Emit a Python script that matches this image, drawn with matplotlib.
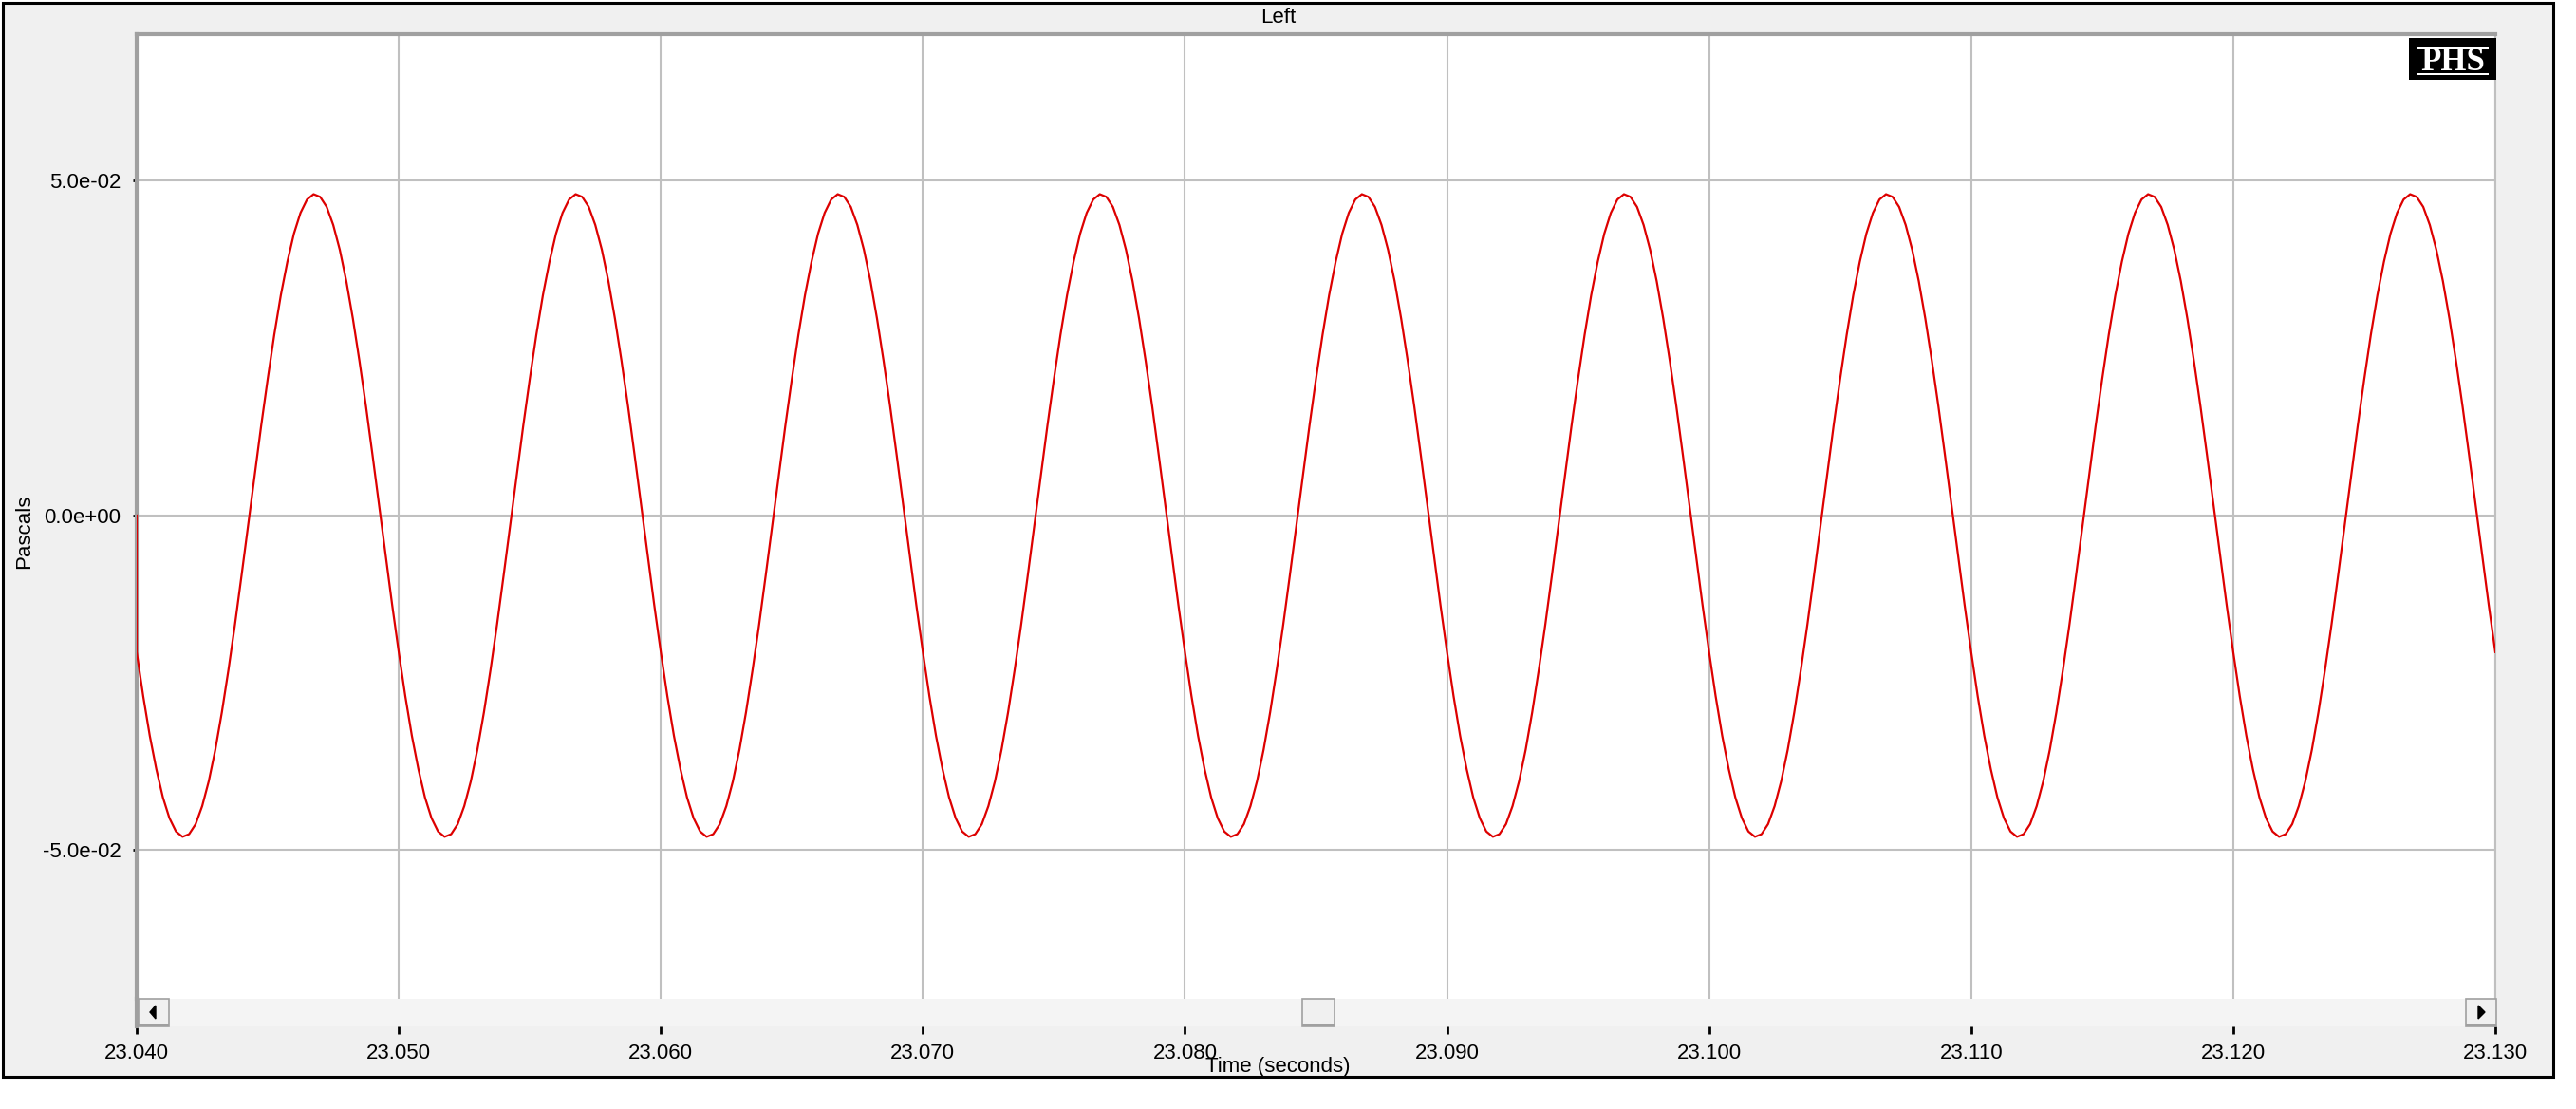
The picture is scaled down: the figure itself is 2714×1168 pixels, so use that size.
from matplotlib import pyplot as plt
from matplotlib.patches import Rectangle, Polygon
from matplotlib.ticker import FuncFormatter
import numpy as np

plt.rcParams['font.family'] = ['Liberation Sans', 'DejaVu Sans']

# channel name / axis text
title = 'Left'
xlabel = 'Time (seconds)'
ylabel = 'Pascals'

cycle_pressure = [
    -0.0204, -0.0270, -0.0329, -0.0379, -0.0421, -0.0452, -0.0472, -0.0480,
    -0.0476, -0.0461, -0.0434, -0.0397, -0.0350, -0.0294, -0.0231, -0.0163,
    -0.0090, -0.0015, 0.0060, 0.0134, 0.0204, 0.0270, 0.0329, 0.0379,
    0.0421, 0.0452, 0.0472, 0.0480, 0.0476, 0.0461, 0.0434, 0.0397,
    0.0350, 0.0294, 0.0231, 0.0163, 0.0090, 0.0015, -0.0060, -0.0134,
]
n_cycles = 9                 # steady tone, 9 cycles visible
start_time = 23.040
sample_step = 0.00025
first_sample = 0.0           # the trace starts from zero at the left edge

xticks = [23.040, 23.050, 23.060, 23.070, 23.080, 23.090, 23.100, 23.110, 23.120, 23.130]
yticks = [-0.05, 0.0, 0.05]

pressure = np.concatenate([np.tile(cycle_pressure, n_cycles), cycle_pressure[:1]])
times = start_time + sample_step * np.arange(len(pressure))
times = np.concatenate([[start_time], times])
pressure = np.concatenate([[first_sample], pressure])

W, H = 2714, 1168
PANEL = '#f0f0f0'


def fx(x):
    return x / W


def fy(y):
    return 1 - y / H


def box(x0, y0, x1, y1, **kw):
    # rectangle given in pixel coords (top-left origin)
    r = Rectangle((fx(x0), fy(y1)), fx(x1) - fx(x0), fy(y0) - fy(y1),
                  transform=fig.transFigure, **kw)
    fig.add_artist(r)
    return r


fig = plt.figure(figsize=(W / 100, H / 100), dpi=100, facecolor='white')

# window panel with black frame
box(3, 3, 2690, 1134, facecolor=PANEL, edgecolor='black', linewidth=2.2, zorder=0)

# main plot
ax = fig.add_axes([fx(144), fy(1052), fx(2629) - fx(144), fy(36) - fy(1052)])
ax.set_facecolor('white')
ax.plot(times, pressure, color='#dd0000', linewidth=1.6, zorder=3)
ax.set_xlim(xticks[0], xticks[-1])
ax.set_ylim(-0.0722, 0.0719)
ax.set_xticks(xticks)
ax.set_yticks(yticks)
ax.grid(True, color='#c0c0c0', linewidth=1.5)
ax.tick_params(axis='x', bottom=False, labelbottom=False)
ax.tick_params(axis='y', length=3, width=2, color='black', pad=9, labelsize=16)
ax.yaxis.set_major_formatter(FuncFormatter(lambda v, p: f'{v:.1e}'))
for s in ['left', 'top']:
    ax.spines[s].set_color('#a0a0a0')
    ax.spines[s].set_linewidth(3)
ax.spines['right'].set_color('#c0c0c0')
ax.spines['right'].set_linewidth(1.5)
ax.spines['bottom'].set_visible(False)

# scrollbar strip under the plot carries the time ticks
sb = fig.add_axes([fx(144), fy(1081), fx(2629) - fx(144), fy(1052) - fy(1081)], sharex=ax)
sb.set_facecolor('#f4f4f4')
sb.set_yticks([])
sb.tick_params(axis='x', length=6, width=2, color='black', pad=7, labelsize=16)
sb.xaxis.set_major_formatter(FuncFormatter(lambda v, p: f'{v:.3f}'))
for s in sb.spines.values():
    s.set_visible(False)
sb.spines['left'].set_visible(True)
sb.spines['left'].set_color('#a0a0a0')
sb.spines['left'].set_linewidth(3)

# scroll buttons and thumb
for (x0, x1) in [(146, 178), (1372, 1406), (2598, 2630)]:
    box(x0, 1052, x1, 1081, facecolor='#f0f0f0', edgecolor='#a0a0a0', linewidth=1.2, zorder=5)
    box(x0, 1079, x1, 1081, facecolor='#a0a0a0', edgecolor='none', zorder=6)
fig.add_artist(Polygon([(fx(158), fy(1066)), (fx(164), fy(1059)), (fx(164), fy(1073))],
                       closed=True, transform=fig.transFigure, color='black', zorder=6))
fig.add_artist(Polygon([(fx(2618), fy(1066)), (fx(2611), fy(1059)), (fx(2611), fy(1073))],
                       closed=True, transform=fig.transFigure, color='black', zorder=6))

# PHS badge
box(2538, 40, 2630, 84, facecolor='black', edgecolor='none', zorder=7)
fig.text(fx(2584), fy(65), 'PHS', color='white', fontsize=25, fontweight='bold',
         family='Liberation Serif', ha='center', va='center', zorder=8)
for yy in (51, 78):
    box(2547, yy - 1, 2622, yy + 0.5, facecolor='white', edgecolor='none', zorder=8)

# texts
fig.text(fx(1347), fy(18), title, fontsize=16, ha='center', va='center')
fig.text(fx(1346), fy(1123), xlabel, fontsize=16, ha='center', va='center')
fig.text(fx(26), fy(560), ylabel, fontsize=16, rotation=90, ha='center', va='center')

fig.savefig('out.png', dpi=100, facecolor='white')
